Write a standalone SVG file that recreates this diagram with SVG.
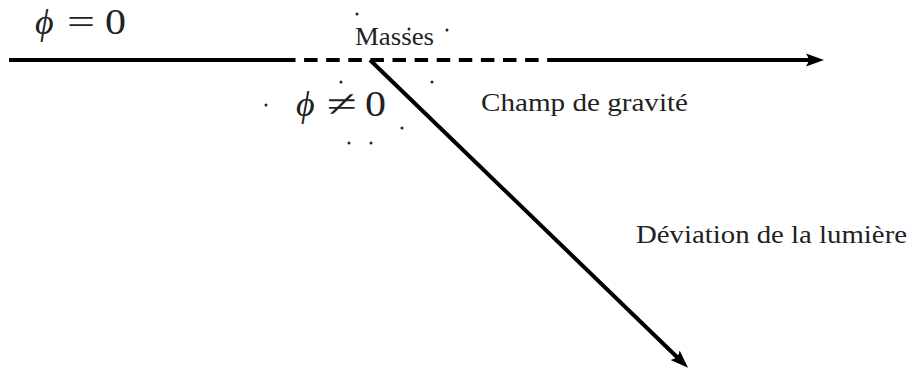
<svg xmlns="http://www.w3.org/2000/svg" width="908" height="373" viewBox="0 0 908 373">
<style>
.lbl{font-family:"Liberation Serif","DejaVu Serif",serif;font-size:25px;fill:#222}
.math{font-family:"Liberation Serif","DejaVu Serif",serif;font-size:36px;fill:#222}
.it{font-style:italic;font-family:"Liberation Serif","DejaVu Serif",serif;font-size:36px}
.ln{stroke:#000;stroke-width:4;fill:none}
.dot{fill:#222}
</style>
<defs>
<marker id="arr" markerUnits="userSpaceOnUse" markerWidth="20" markerHeight="16" viewBox="0 0 20 16" refX="5" refY="8" orient="auto">
<path d="M19,8 L1,1.5 Q6,8 1,14.5 Z" fill="#000"/>
</marker>
</defs>
<g id="connectors">
<line class="ln" x1="9" y1="60" x2="283" y2="60"/>
<line class="ln" x1="282" y1="60" x2="561" y2="60" stroke-dasharray="13.5 8.6"/>
<line class="ln" x1="560" y1="60" x2="810" y2="60" marker-end="url(#arr)"/>
<line class="ln" x1="370" y1="60" x2="678" y2="358" marker-end="url(#arr)"/>
</g>
<g id="phi0">
<text class="math" y="34"><tspan class="it" x="35">ϕ</tspan><tspan x="67" dy="-0.5" textLength="28" lengthAdjust="spacingAndGlyphs">=</tspan><tspan x="105" dy="0.5" textLength="21" lengthAdjust="spacingAndGlyphs">0</tspan></text>
</g>
<g id="phineq0">
<text class="math" y="116"><tspan class="it" x="296">ϕ</tspan><tspan x="327" dy="-0.5" textLength="30" lengthAdjust="spacingAndGlyphs">≠</tspan><tspan x="365" dy="0.5" textLength="21" lengthAdjust="spacingAndGlyphs">0</tspan></text>
</g>
<g id="masses">
<text class="lbl" x="355" y="45" textLength="79" lengthAdjust="spacingAndGlyphs">Masses</text>
</g>
<g id="champ">
<text class="lbl" x="481" y="111" textLength="207" lengthAdjust="spacingAndGlyphs">Champ de gravité</text>
</g>
<g id="deviation">
<text class="lbl" x="636" y="243" textLength="271" lengthAdjust="spacingAndGlyphs">Déviation de la lumière</text>
</g>
<g id="dots">
<circle class="dot" cx="357" cy="14" r="1.5"/>
<circle class="dot" cx="409" cy="29" r="1.5"/>
<circle class="dot" cx="447" cy="30" r="1.5"/>
<circle class="dot" cx="341" cy="82" r="1.5"/>
<circle class="dot" cx="432" cy="82" r="1.5"/>
<circle class="dot" cx="266" cy="105" r="1.5"/>
<circle class="dot" cx="402" cy="128" r="1.5"/>
<circle class="dot" cx="349" cy="143" r="1.5"/>
<circle class="dot" cx="371" cy="143" r="1.5"/>
</g>
</svg>
